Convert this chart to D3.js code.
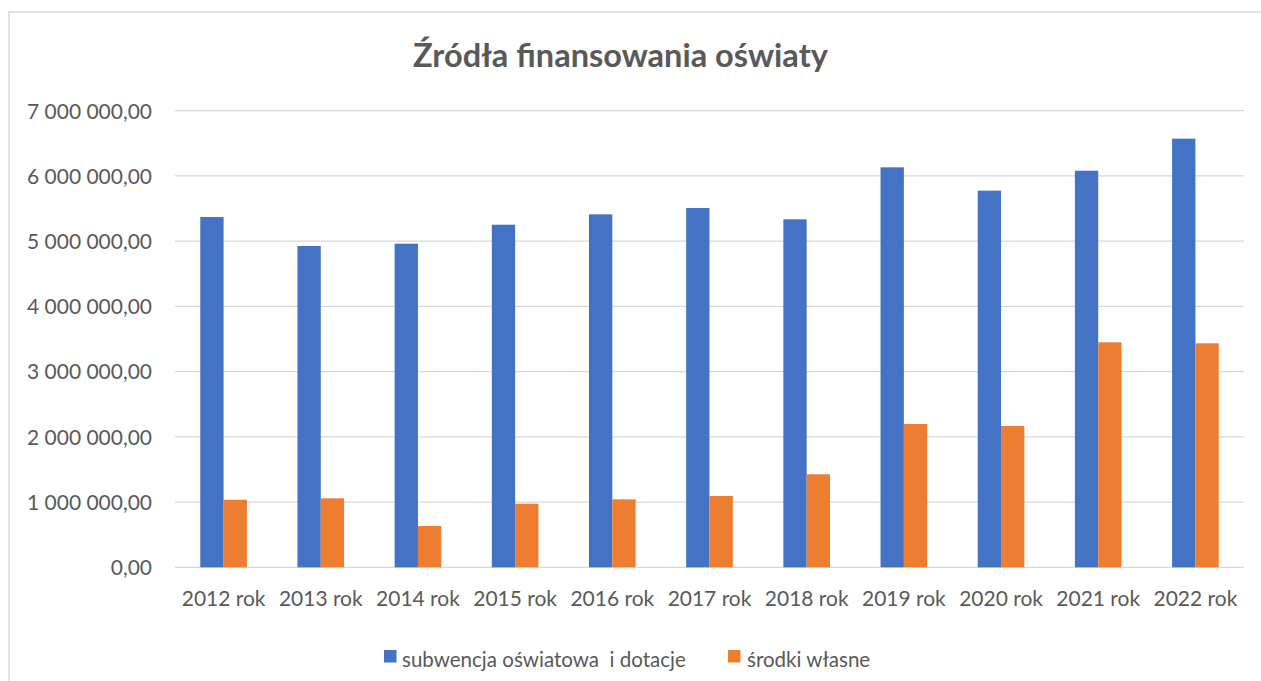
<!DOCTYPE html>
<html>
<head>
<meta charset="utf-8">
<script src="https://cdn.jsdelivr.net/npm/d3@7"></script>
<style>
  html, body { margin: 0; padding: 0; background: #ffffff; }
  svg { display: block; }
  text { font-family: Lato, "Open Sans", sans-serif; fill: #595959; }
</style>
</head>
<body>
<script>
const categories = ["2012 rok","2013 rok","2014 rok","2015 rok","2016 rok","2017 rok","2018 rok","2019 rok","2020 rok","2021 rok","2022 rok"];
const seriesNames = ["subwencja oświatowa  i dotacje", "środki własne"];
const subwencja = [5370000, 4926000, 4961000, 5252000, 5411000, 5508000, 5335000, 6132000, 5774000, 6080000, 6571000];
const srodkiWlasne = [1036000, 1058000, 633000, 975000, 1042000, 1093000, 1426000, 2197000, 2166000, 3449000, 3434000];
const yTicks = [0, 1000000, 2000000, 3000000, 4000000, 5000000, 6000000, 7000000];
const titleText = "Źródła finansowania oświaty";

const W = 1261, H = 681;
const colors = ["#4472C4", "#ED7D31"];
const series = [subwencja, srodkiWlasne];

const svg = d3.select("body").append("svg").attr("width", W).attr("height", H);

// chart border
svg.append("rect").attr("x", 9).attr("y", 12).attr("width", W + 20).attr("height", H + 20)
  .attr("fill", "#fff").attr("stroke", "#d9d9d9").attr("stroke-width", 1.5);

const plot = { left: 175, right: 1244, top: 110.7, bottom: 567.3 };

const x = d3.scaleBand().domain(categories).range([plot.left, plot.right]).paddingInner(0.52).paddingOuter(0.26);
const x1 = d3.scaleBand().domain(d3.range(series.length)).range([0, x.bandwidth()]);
const y = d3.scaleLinear().domain([0, 7000000]).range([plot.bottom, plot.top]);

const fmt = v => {
  const s = d3.format(",.2f")(v);
  return s.replace(/,/g, " ").replace(".", ",");
};

// gridlines
svg.append("g").selectAll("line").data(yTicks).join("line")
  .attr("x1", plot.left).attr("x2", plot.right)
  .attr("y1", d => y(d)).attr("y2", d => y(d))
  .attr("stroke", "#d9d9d9").attr("stroke-width", 1.3);

// y axis labels
const yAxis = d3.axisLeft(y).tickValues(yTicks).tickFormat(fmt).tickSize(0).tickPadding(0);
const gy = svg.append("g").attr("transform", `translate(152,0)`).call(yAxis);
gy.select(".domain").remove();
gy.selectAll("text").attr("font-size", 20).attr("fill", "#595959")
  .style("font-family", "Lato, 'Open Sans', sans-serif");

// fit y label font to target width
(function(){
  const t = gy.selectAll("text").filter(d => d === 7000000).node();
  const w = t.getComputedTextLength();
  const fs = 20 * 125 / w;
  gy.selectAll("text").attr("font-size", fs).attr("dy", "0.35em");
  window.__axisFs = fs;
})();

// bars
const groups = svg.append("g").selectAll("g").data(categories).join("g")
  .attr("transform", d => `translate(${x(d)},0)`);
groups.selectAll("rect").data((d, i) => series.map((s, k) => ({ k, v: s[i] }))).join("rect")
  .attr("x", d => x1(d.k)).attr("width", x1.bandwidth())
  .attr("y", d => y(d.v)).attr("height", d => y(0) - y(d.v))
  .attr("fill", d => colors[d.k]);

// x axis labels
const xAxis = d3.axisBottom(x).tickSize(0).tickPadding(0);
const gx = svg.append("g").attr("transform", `translate(0,${plot.bottom})`).call(xAxis);
gx.select(".domain").remove();
gx.selectAll("text").attr("font-size", window.__axisFs).attr("fill", "#595959")
  .attr("y", 38.5).attr("dy", 0)
  .style("font-family", "Lato, 'Open Sans', sans-serif");

// title
const title = svg.append("text").attr("x", 620.5).attr("y", 67).attr("text-anchor", "middle")
  .attr("font-size", 30).attr("font-weight", "bold").attr("fill", "#595959").text(titleText);
(function(){
  const w = title.node().getComputedTextLength();
  title.attr("font-size", 30 * 415 / w);
})();

// legend
const legendPos = [{ sx: 384, tx: 402 }, { sx: 728, tx: 747 }];
const lg = svg.append("g");
seriesNames.forEach((name, k) => {
  lg.append("rect").attr("x", legendPos[k].sx).attr("y", 650).attr("width", 12.5).attr("height", 12.5).attr("fill", colors[k]);
  lg.append("text").attr("x", legendPos[k].tx).attr("y", 667).attr("font-size", window.__axisFs * 0.98)
    .attr("fill", "#595959").style("white-space", "pre").attr("xml:space", "preserve").text(name);
});
</script>
</body>
</html>
